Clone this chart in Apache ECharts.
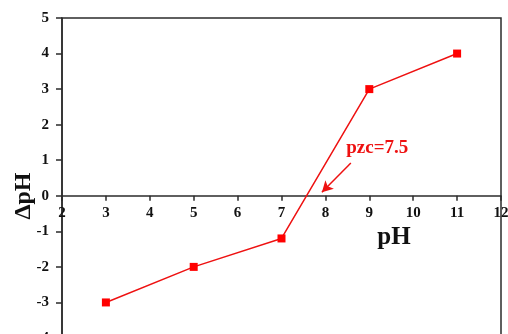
<!DOCTYPE html>
<html>
<head>
<meta charset="utf-8">
<script src="https://cdn.jsdelivr.net/npm/echarts@6/dist/echarts.min.js"></script>
<style>html,body{margin:0;padding:0;background:#fff;}#c{width:508px;height:334px;}</style>
</head>
<body>
<div id="c"></div>
<script>
var xValues = [3, 5, 7, 9, 11];
var dpH = [-3, -2, -1.2, 3, 4];
var xTicks = ['2','3','4','5','6','7','8','9','10','11','12'];
var yTicks = ['-4','-3','-2','-1','0','1','2','3','4','5'];
var arrowStart = [8.58, 0.92];
var arrowEnd = [7.92, 0.10];
var noteText = 'pzc=7.5';
var notePos = [9.18, 1.34];

var FONT = "'Liberation Serif','Times New Roman',serif";
var chart = echarts.init(document.getElementById('c'), null, {renderer: 'canvas'});
var axisColor = '#2b2b2b';
var labelStyle = {color: '#111', fontFamily: FONT, fontWeight: 'bold', fontSize: 15,
  showMinLabel: true, showMaxLabel: true, hideOverlap: false};
function build(labelOffset) {
  return {
    animation: false,
    backgroundColor: '#fff',
    grid: {left: 62, right: 7, top: 18, height: 320, outerBoundsMode: 'none', containLabel: false,
      show: true, borderColor: axisColor, borderWidth: 1.5, backgroundColor: 'transparent'},
    xAxis: [{
      type: 'value', min: 2, max: 12, interval: 1,
      axisLine: {show: true, onZero: true, lineStyle: {color: axisColor, width: 1.5}},
      axisTick: {show: true, inside: false, length: 5, lineStyle: {color: axisColor, width: 1.5}},
      splitLine: {show: false},
      axisLabel: {show: false}
    }, {
      type: 'value', min: 2, max: 12, interval: 1, position: 'bottom', offset: labelOffset,
      axisLine: {show: false, onZero: false},
      axisTick: {show: false},
      splitLine: {show: false},
      axisLabel: Object.assign({show: true, margin: 10,
        formatter: function (v) { return xTicks[Math.round(v) - 2]; }}, labelStyle)
    }],
    yAxis: {
      type: 'value', min: -4, max: 5, interval: 1,
      axisLine: {show: true, onZero: false, lineStyle: {color: axisColor, width: 1.5}},
      axisTick: {show: true, inside: false, length: 6, lineStyle: {color: axisColor, width: 1.5}},
      splitLine: {show: false},
      axisLabel: Object.assign({show: true, margin: 13,
        formatter: function (v) { return yTicks[Math.round(v) + 4]; }}, labelStyle)
    },
    series: [{
      type: 'line',
      xAxisIndex: 0,
      data: xValues.map(function (x, i) { return [x, dpH[i]]; }),
      symbol: 'rect', symbolSize: 8,
      lineStyle: {color: '#ee1111', width: 1.5},
      itemStyle: {color: '#ff0000'},
      markLine: {
        silent: true,
        symbol: ['none', 'arrow'], symbolSize: [9, 11],
        lineStyle: {color: '#ee1111', width: 1.5, type: 'solid'},
        label: {show: false},
        data: [[{coord: arrowStart}, {coord: arrowEnd}]]
      }
    }]
  };
}
chart.setOption(build(0));
var zeroY = chart.convertToPixel({xAxisIndex: 0, yAxisIndex: 0}, [2, 0])[1];
var minY = chart.convertToPixel({xAxisIndex: 0, yAxisIndex: 0}, [2, -4])[1];
chart.setOption(build(zeroY - minY));
var p = chart.convertToPixel({xAxisIndex: 0, yAxisIndex: 0}, notePos);
chart.setOption({
  graphic: [
    {type: 'text', x: p[0], y: p[1], style: {text: noteText, fill: '#ee1111', font: 'bold 19px ' + FONT, textAlign: 'center', textVerticalAlign: 'middle'}},
    {type: 'text', x: 394, y: 238, style: {text: 'pH', fill: '#111', font: 'bold 25px ' + FONT, textAlign: 'center', textVerticalAlign: 'middle'}},
    {type: 'text', x: 24, y: 196, rotation: Math.PI / 2, style: {text: 'ΔpH', fill: '#111', font: 'bold 24px ' + FONT, textAlign: 'center', textVerticalAlign: 'middle'}}
  ]
});
</script>
</body>
</html>
